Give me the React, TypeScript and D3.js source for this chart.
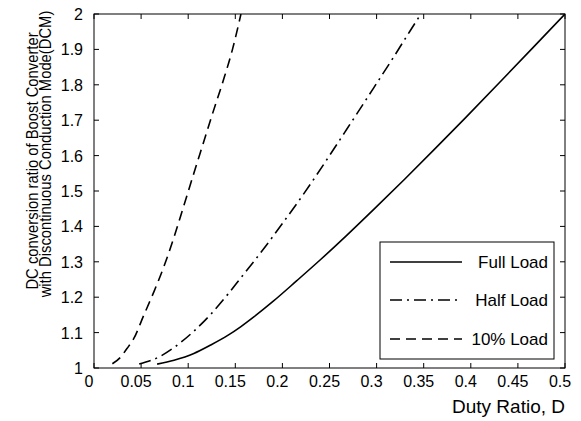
import React from 'react';
import * as d3 from 'd3';

// duty ratio D and conversion ratio M
const dutyFull = [0.067, 0.085, 0.106, 0.124, 0.142, 0.156, 0.17, 0.19, 0.215, 0.24, 0.268, 0.297, 0.33, 0.36, 0.394, 0.43, 0.466, 0.5];
const ratioFull = [1.011, 1.022, 1.041, 1.065, 1.092, 1.117, 1.145, 1.188, 1.246, 1.305, 1.374, 1.448, 1.534, 1.614, 1.706, 1.805, 1.905, 2.0];

const dutyHalf = [0.048, 0.071, 0.085, 0.106, 0.124, 0.142, 0.156, 0.17, 0.185, 0.2, 0.22, 0.235, 0.25, 0.266, 0.28, 0.3, 0.318, 0.335, 0.347];
const ratioHalf = [1.011, 1.034, 1.058, 1.104, 1.152, 1.208, 1.255, 1.302, 1.354, 1.408, 1.482, 1.54, 1.6, 1.665, 1.722, 1.804, 1.878, 1.95, 2.0];

const dutyTen = [0.0195, 0.028, 0.035, 0.042, 0.053, 0.064, 0.074, 0.085, 0.0955, 0.106, 0.116, 0.126, 0.137, 0.147, 0.156];
const ratioTen = [1.012, 1.03, 1.055, 1.082, 1.15, 1.218, 1.285, 1.37, 1.46, 1.55, 1.635, 1.72, 1.81, 1.9, 2.0];

const xTicks = [0, 0.05, 0.1, 0.15, 0.2, 0.25, 0.3, 0.35, 0.4, 0.45, 0.5];
const yTicks = [1, 1.1, 1.2, 1.3, 1.4, 1.5, 1.6, 1.7, 1.8, 1.9, 2];

const seriesNames = ['Full Load', 'Half Load', '10% Load'];
const dashes = ['none', '12,5,2,5', '10,6'];

const W = 581;
const H = 421;
const left = 94, right = 565, top = 14, bottom = 368;
const font = '"Liberation Sans", Arial, sans-serif';

export default function App() {
  const x = d3.scaleLinear().domain([0, 0.5]).range([left, right]);
  const y = d3.scaleLinear().domain([1, 2]).range([bottom, top]);

  const line = d3.line<[number, number]>()
    .x(d => x(d[0]))
    .y(d => y(d[1]))
    .curve(d3.curveMonotoneX);

  const series = [
    d3.zip(dutyFull, ratioFull) as [number, number][],
    d3.zip(dutyHalf, ratioHalf) as [number, number][],
    d3.zip(dutyTen, ratioTen) as [number, number][],
  ];

  const tick = 5;
  const legendRows = [262, 300, 339];

  return (
    <svg width={W} height={H} style={{ position: 'absolute', left: 0, top: 0, background: '#fff' }}
      fontFamily={font}>
      <defs>
        <clipPath id="plot">
          <rect x={left} y={top} width={right - left} height={bottom - top} />
        </clipPath>
      </defs>

      {/* curves */}
      <g clipPath="url(#plot)">
        {series.map((s, i) => (
          <path key={i} d={line(s) || ''} fill="none" stroke="#000" strokeWidth={1.6}
            strokeDasharray={dashes[i]} />
        ))}
      </g>

      {/* axes box and ticks */}
      <rect x={left} y={top} width={right - left} height={bottom - top} fill="none" stroke="#000" strokeWidth={1} />
      {xTicks.map(t => (
        <g key={'x' + t}>
          <line x1={x(t)} x2={x(t)} y1={bottom} y2={bottom - tick} stroke="#000" />
          <line x1={x(t)} x2={x(t)} y1={top} y2={top + tick} stroke="#000" />
          <text x={x(t) - 5} y={387} fontSize={16} textAnchor="middle">{String(t)}</text>
        </g>
      ))}
      {yTicks.map(t => (
        <g key={'y' + t}>
          <line x1={left} x2={left + tick} y1={y(t)} y2={y(t)} stroke="#000" />
          <line x1={right} x2={right - tick} y1={y(t)} y2={y(t)} stroke="#000" />
          <text x={83} y={y(t) + 6} fontSize={16} textAnchor="end">{String(t)}</text>
        </g>
      ))}

      {/* legend */}
      <rect x={380} y={242} width={174} height={117} fill="#fff" stroke="#000" strokeWidth={1} />
      {seriesNames.map((name, i) => (
        <g key={name}>
          <line x1={390} x2={462} y1={legendRows[i]} y2={legendRows[i]} stroke="#000" strokeWidth={1.6}
            strokeDasharray={dashes[i]} />
          <text x={548} y={legendRows[i] + 6} fontSize={17} textAnchor="end">{name}</text>
        </g>
      ))}

      {/* axis labels */}
      <text x={452} y={413} fontSize={19}>Duty Ratio, D</text>
      <text transform="translate(37.5,161) rotate(-90) scale(0.87,1)" fontSize={17} textAnchor="middle">
        DC conversion ratio of Boost Converter
      </text>
      <text transform="translate(51,154) rotate(-90) scale(0.87,1)" fontSize={17} textAnchor="middle">
        with Discontinuous Conduction Mode(DCM)
      </text>
    </svg>
  );
}
